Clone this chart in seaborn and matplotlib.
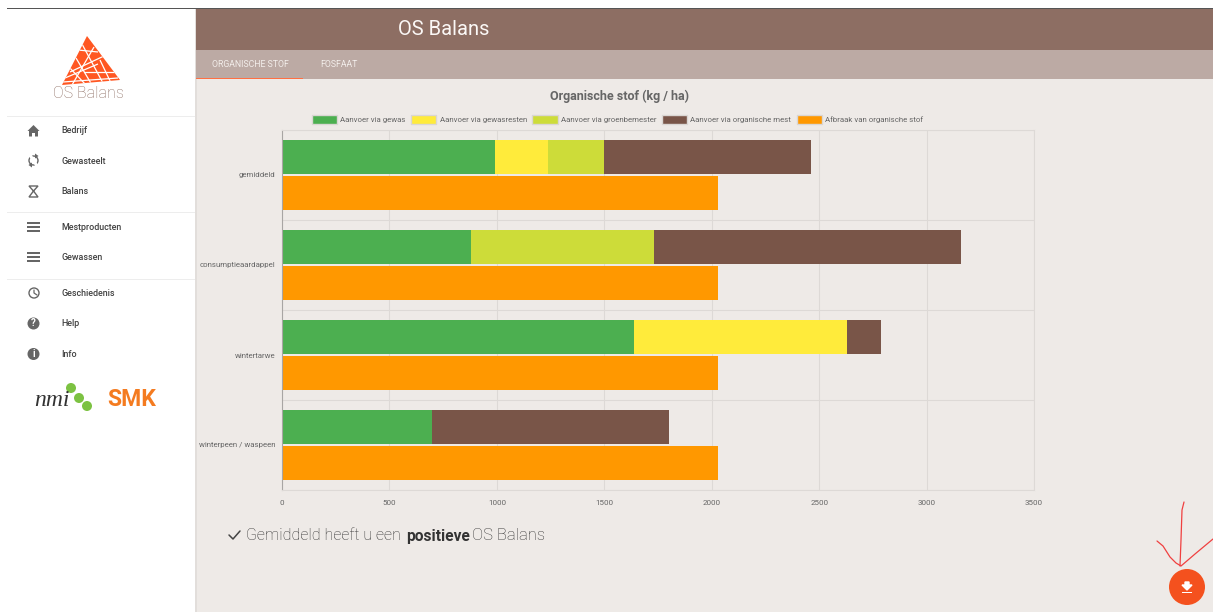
"""OS Balans dashboard: organic matter supply and breakdown per crop"""
import pandas as pd
import seaborn as sns
from matplotlib import pyplot as plt
from matplotlib.patches import Circle, Patch, Polygon, Rectangle

# %% Data
crops = ["gemiddeld", "consumptieaardappel", "wintertarwe", "winterpeen / waspeen"]
gewas = [990, 880, 1640, 700]
gewasresten = [250, 0, 990, 0]
groenbemester = [260, 850, 0, 0]
organische_mest = [960, 1430, 160, 1100]
afbraak = [2030, 2030, 2030, 2030]

supply_labels = ["Aanvoer via gewas", "Aanvoer via gewasresten", "Aanvoer via groenbemester", "Aanvoer via organische mest"]
afbraak_label = "Afbraak van organische stof"
x_ticks = [0, 500, 1000, 1500, 2000, 2500, 3000, 3500]
menu_top = ["Bedrijf", "Gewasteelt", "Balans"]
menu_middle = ["Mestproducten", "Gewassen"]
menu_bottom = ["Geschiedenis", "Help", "Info"]

# %% Styling
BACKGROUND = "#EEEAE7"
GRID = "#DDD9D6"
TEXT = "#666666"
COLOURS = ["#4CAF50", "#FFEB3B", "#CDDC39", "#795548"]
ORANGE = "#FF9800"
W, H = 1213, 612

sns.set_theme(style="white")
plt.rcParams["font.family"] = ["Roboto", "DejaVu Sans"]

f = plt.figure(figsize=(W / 100, H / 100), dpi=100, facecolor=BACKGROUND)

# %% Page furniture in pixel coordinates
page = f.add_axes([0, 0, 1, 1], zorder=0)
page.set_xlim(0, W)
page.set_ylim(H, 0)
page.axis("off")


def box(x, y, w, h, colour):
    page.add_patch(Rectangle((x, y), w, h, facecolor=colour, edgecolor="none"))


box(0, 0, 195, H, "white")
box(195, 0, 2, H, "#E2DEDB")
box(0, 0, W, 8, "white")
box(7, 8, W - 7, 1, "#555555")
box(196, 9, W - 196, 41, "#8D6E63")
box(196, 50, W - 196, 29, "#BCAAA4")
box(196, 78, 107, 1, "#FF7043")
page.text(398, 29.5, "OS Balans", color="#FBF8F6", fontsize=14.5, va="center")
page.text(250, 64.5, "ORGANISCHE STOF", color="#F3EEEB", fontsize=6.3, va="center", ha="center")
page.text(339, 64.5, "FOSFAAT", color="#F3EEEB", fontsize=6.3, va="center", ha="center")

# logo
LOGO = "#FF5722"
page.add_patch(Polygon([(87, 36), (120, 80), (62, 85)], facecolor=LOGO, edgecolor="none"))
for x0, y0, x1, y1 in [(82, 44, 104, 85), (70, 72, 104, 56), (63, 82, 118, 78), (94, 47, 72, 85), (76, 58, 92, 85),
                       (65, 78, 98, 64), (78, 50, 98, 52), (68, 66, 86, 85), (100, 60, 112, 85), (84, 72, 116, 72)]:
    page.plot([x0, x1], [y0, y1], color="white", lw=0.9, solid_capstyle="butt", clip_path=page.patches[-1])
page.text(88.5, 93, "OS Balans", color="#8D6E63", fontsize=11.5, fontweight="light", ha="center", va="center")

# menu
ICON = "#666666"
for y in [115.5, 211.5, 278.5]:
    box(7, y, 188, 1, "#EDEDED")
for label, y in zip(menu_top + menu_middle + menu_bottom, [130.5, 161, 191.5, 227.5, 257.5, 293.5, 324, 354.5]):
    page.text(61, y, label, color="#424242", fontsize=6.4, fontweight="medium", va="center")

page.add_patch(Polygon([(27.5, 131), (33.5, 125), (39.5, 131), (38, 131), (38, 136.5), (35, 136.5), (35, 133), (32, 133), (32, 136.5), (29, 136.5), (29, 131)], facecolor=ICON, edgecolor="none"))
page.add_patch(Circle((33.5, 160.5), 4.5, facecolor="none", edgecolor=ICON, lw=1))
page.plot([30, 37], [155, 166], color="white", lw=2.2)
page.add_patch(Polygon([(35, 153.5), (35, 158.5), (38.5, 156)], facecolor=ICON, edgecolor="none"))
page.add_patch(Polygon([(32, 162.5), (32, 167.5), (28.5, 165)], facecolor=ICON, edgecolor="none"))
page.add_patch(Polygon([(29, 186), (38, 186), (33.5, 191), (38, 197), (29, 197), (33.5, 191)], facecolor="none", edgecolor=ICON, lw=1))
for y in [227, 257]:
    for dy in [-4, 0, 4]:
        box(27, y + dy - 1.3, 13, 2.6, ICON)
page.add_patch(Circle((34, 293), 5, facecolor="none", edgecolor=ICON, lw=1))
page.plot([34, 34, 37], [290, 293, 295], color=ICON, lw=0.9)
for y, glyph in zip([323.5, 354], ["?", "i"]):
    page.add_patch(Circle((33.5, y), 6, facecolor=ICON, edgecolor="none"))
    page.text(33.5, y, glyph, color="white", fontsize=7, fontweight="bold", ha="center", va="center")

# partner logos
page.text(52, 400, "nmi", color="#333333", fontsize=17, family="Liberation Serif", style="italic", ha="center", va="center")
for x, y in [(71, 388), (79, 398), (87, 406)]:
    page.add_patch(Circle((x, y), 5, facecolor="#7CC242", edgecolor="none"))
page.text(132, 399, "SMK", color="#F47B20", fontsize=16.5, fontweight="bold", ha="center", va="center")

# conclusion line
page.plot([229, 233, 240], [535, 539, 531], color="#444444", lw=1.1)
page.text(246, 536, "Gemiddeld heeft u een", color="#333333", fontsize=11.5, fontweight="light", va="center")
page.text(406, 536, "positieve", color="#333333", fontsize=11.2, fontweight="bold", va="center")
page.text(472, 536, "OS Balans", color="#333333", fontsize=12, fontweight="light", va="center")

# download button with hand-drawn arrow
page.add_patch(Circle((1187, 587), 18, facecolor="#F4511E", edgecolor="none"))
page.add_patch(Polygon([(1185, 582), (1189, 582), (1189, 585), (1192, 585), (1187, 590), (1182, 585), (1185, 585)], facecolor="white"))
box(1182, 592, 10, 1.2, "white")
page.plot([1184, 1182, 1181, 1180], [502, 510, 540, 566], color="#F04040", lw=0.9)
page.plot([1157, 1163, 1170, 1176, 1181, 1195, 1213], [541, 546, 557, 563, 566, 554, 539], color="#F04040", lw=0.9)

# %% Chart
ax = f.add_axes([282 / W, 1 - 490 / H, (1034 - 282) / W, 360 / H], zorder=1)
ax.patch.set_alpha(0)
ax.set_axisbelow(True)

GROUPS = ["aanvoer", "afbraak"]
# stacked bars: draw the cumulative totals from the outside in so each series covers the next
series = [gewas, gewasresten, groenbemester, organische_mest]
cumulative = pd.DataFrame(series, index=supply_labels, columns=crops).cumsum()
for label, colour in reversed(list(zip(supply_labels, COLOURS))):
    df = pd.DataFrame(
        {
            "crop": crops * 2,
            "value": list(cumulative.loc[label]) + afbraak,
            "group": ["aanvoer"] * len(crops) + ["afbraak"] * len(crops),
        }
    )
    sns.barplot(data=df, x="value", y="crop", hue="group", hue_order=GROUPS, order=crops, palette=[colour, ORANGE],
                orient="y", width=0.8, gap=0.083, legend=False, ax=ax, saturation=1, linewidth=0, edgecolor="none")

ax.set_xlim(0, 3500)
ax.set_ylim(3.5, -0.5)
ax.set_xlabel("")
ax.set_ylabel("")
ax.set_xticks(x_ticks)
ax.set_yticks([i + 0.5 for i in range(-1, 4)], minor=True)
ax.grid(True, axis="x", which="major", color=GRID, lw=0.8)
ax.grid(True, axis="y", which="minor", color=GRID, lw=0.8)
ax.tick_params(axis="x", length=5, width=0.8, color=GRID, labelsize=5.8, labelcolor=TEXT, pad=2)
ax.tick_params(axis="y", which="major", length=0, labelsize=5.7, labelcolor=TEXT, pad=4.5)
ax.tick_params(axis="y", which="minor", length=5, width=0.8, color=GRID)
for side in ["top", "right", "bottom"]:
    ax.spines[side].set_color(GRID)
    ax.spines[side].set_linewidth(0.8)
ax.spines["left"].set_color("#A8A5A3")
ax.spines["left"].set_linewidth(0.8)

handles = [Patch(facecolor=c, edgecolor="#DAD6D3", label=l) for c, l in zip(COLOURS + [ORANGE], supply_labels + [afbraak_label])]
f.legend(handles=handles, loc="center", bbox_to_anchor=(617.5 / W, 1 - 119.5 / H), ncol=5, frameon=False, fontsize=5.7,
         labelcolor=TEXT, handlelength=3.2, handleheight=1.25, handletextpad=0.4, columnspacing=0.7, borderpad=0)
f.text(620 / W, 1 - 96 / H, "Organische stof (kg / ha)", color=TEXT, fontsize=9, fontweight="bold", ha="center", va="center")

f.savefig("out.png", dpi=100, facecolor=BACKGROUND)
